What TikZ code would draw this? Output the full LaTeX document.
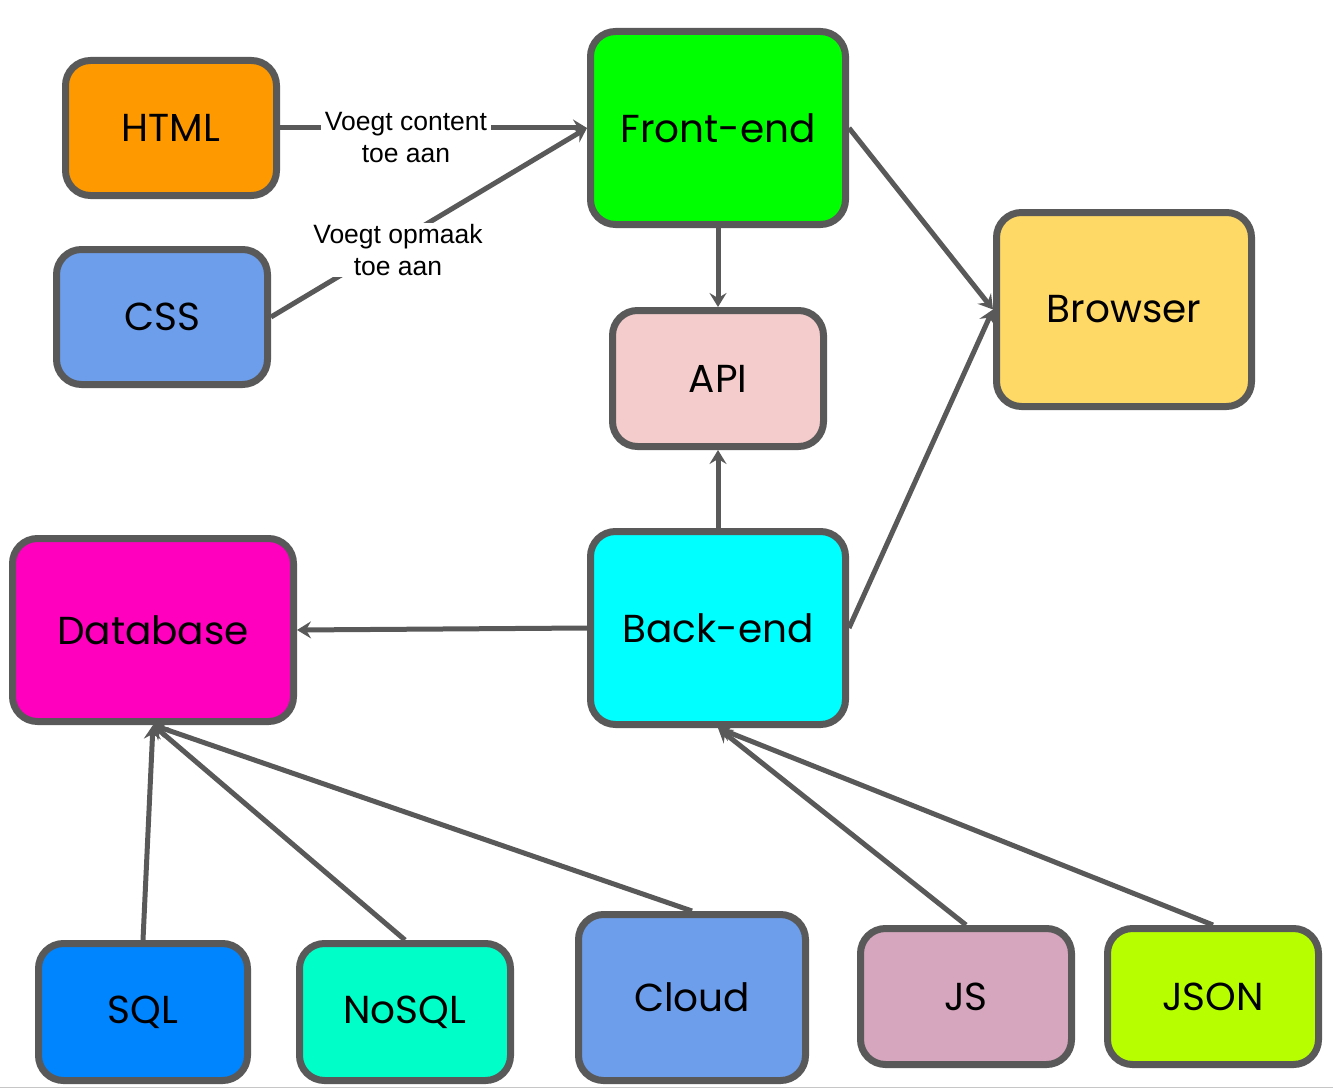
\documentclass[tikz,border=0pt]{standalone}
\usepackage{fontspec}
\setmainfont{Poppins}
\newfontfamily\lblfont{Liberation Sans}
\usetikzlibrary{arrows.meta}
\definecolor{edge}{HTML}{595959}
\definecolor{cHTML}{HTML}{FF9900}
\definecolor{cFE}{HTML}{00FF00}
\definecolor{cCSS}{HTML}{6D9EEB}
\definecolor{cAPI}{HTML}{F4CCCC}
\definecolor{cBrowser}{HTML}{FFD966}
\definecolor{cDB}{HTML}{FF00BF}
\definecolor{cBE}{HTML}{00FFFF}
\definecolor{cSQL}{HTML}{0085FF}
\definecolor{cNoSQL}{HTML}{00FFC8}
\definecolor{cCloud}{HTML}{6D9EEB}
\definecolor{cJS}{HTML}{D5A6BD}
\definecolor{cJSON}{HTML}{B7FF00}
\begin{document}
\begin{tikzpicture}[x=1pt,y=-1pt,
  box/.style={draw=edge, line width=7pt, rounded corners=25pt, inner sep=0pt,
    font=\fontsize{39}{44}\selectfont, text=black},
  conn/.style={draw=edge, line width=5pt, -{Stealth[length=14pt,width=17pt,inset=5pt]}},
  lbl/.style={fill=white, inner xsep=4pt, inner ysep=1pt, align=center, font=\lblfont\fontsize{26.5}{32}\selectfont, text=black}]
\useasboundingbox (0,0) rectangle (1333,1089);
\draw[gray!45, line width=1.5pt] (0,1087.5) -- (1333,1087.5);
% boxes
\node[box, fill=cHTML, minimum width=211pt, minimum height=135pt] (html) at (171,128) {HTML};
\node[box, fill=cFE, minimum width=255pt, minimum height=193pt] (fe) at (718,128) {Front-end};
\node[box, fill=cCSS, minimum width=211pt, minimum height=135pt] (css) at (162,317) {CSS};
\node[box, fill=cAPI, minimum width=211pt, minimum height=136pt] (api) at (718,378.5) {API};
\node[box, fill=cBrowser, minimum width=255pt, minimum height=194pt] (browser) at (1124,309.5) {Browser};
\node[box, fill=cDB, minimum width=281pt, minimum height=183pt] (db) at (153,630) {Database};
\node[box, fill=cBE, minimum width=255pt, minimum height=193pt] (be) at (718,628) {Back-end};
\node[box, fill=cSQL, minimum width=209pt, minimum height=137pt] (sql) at (143,1012) {SQL};
\node[box, fill=cNoSQL, minimum width=211pt, minimum height=137pt] (nosql) at (405,1012) {NoSQL};
\node[box, fill=cCloud, minimum width=227pt, minimum height=166pt] (cloud) at (692,997.5) {Cloud};
\node[box, fill=cJS, minimum width=211pt, minimum height=136pt] (js) at (966,996.5) {JS};
\node[box, fill=cJSON, minimum width=211pt, minimum height=136pt] (json) at (1213,996.5) {JSON};
% connectors
\draw[conn] (html.east) -- (fe.west);
\draw[conn] (css.east) -- (fe.west);
\draw[conn] (fe.south) -- (api.north);
\draw[conn] (be.north) -- (api.south);
\draw[conn] (fe.east) -- (browser.west);
\draw[conn] (be.east) -- (browser.west);
\draw[conn] (be.west) -- (db.east);
\draw[conn] (sql.north) -- (db.south);
\draw[conn] (nosql.north) -- (db.south);
\draw[conn] (cloud.north) -- (db.south);
\draw[conn] (js.north) -- (be.south);
\draw[conn] (json.north) -- (be.south);
% labels
\node[lbl] (l1) at (406,138) {Voegt content\\toe aan};
\node[lbl] (l2) at (398,250) {Voegt opmaak\\toe aan};
\end{tikzpicture}
\end{document}
